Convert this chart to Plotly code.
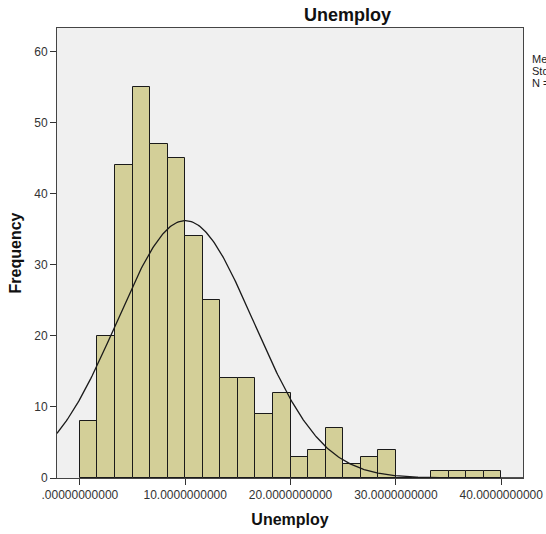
import numpy as np
import plotly.graph_objects as go

# ---- data ----
counts = [8, 20, 44, 55, 47, 45, 34, 25, 14, 14, 9, 12,
          3, 4, 7, 2, 3, 4, 0, 0, 1, 1, 1, 1]
bin_start = 0.0
bin_width = 40.0 / 24
x_tick_vals = [0, 10, 20, 30, 40]
x_tick_text = [".00000000000", "10.0000000000", "20.0000000000",
               "30.0000000000", "40.0000000000"]
y_tick_vals = [0, 10, 20, 30, 40, 50, 60]
mean_val = 10.0
sd_val = 6.50
n_val = 354
stats_lines = ["Mean = 10.00", "Std. Dev. = 6.500", "N = 354"]

centers = [bin_start + bin_width * (i + 0.5) for i in range(len(counts))]

x_min, x_max = -2.17, 42.07
y_max = 63.3

fig = go.Figure()
fig.add_trace(go.Bar(
    x=centers, y=counts, width=bin_width,
    marker=dict(color="#D3CF98", line=dict(color="#1a1a1a", width=1)),
    showlegend=False, hoverinfo="skip",
))

xs = np.linspace(x_min, x_max, 400)
ys = n_val * bin_width / (sd_val * np.sqrt(2 * np.pi)) * np.exp(-0.5 * ((xs - mean_val) / sd_val) ** 2)
fig.add_trace(go.Scatter(x=xs, y=ys, mode="lines",
                         line=dict(color="#1a1a1a", width=1.3),
                         showlegend=False, hoverinfo="skip"))

W, H = 546, 534
ml, mr, mt, mb = 57, 23, 28, 56
pw = W - ml - mr
ph = H - mt - mb


def px_to_paper_x(px):
    return (px - ml) / pw


def py_to_paper_y(py):
    return (H - mb - py) / ph


annotations = [
    dict(text="<b>Unemploy</b>", x=px_to_paper_x(347), y=py_to_paper_y(15),
         xref="paper", yref="paper", showarrow=False, xanchor="center", yanchor="middle",
         font=dict(size=18, color="#111", family="Liberation Sans, Arial")),
]
for i, line in enumerate(stats_lines):
    annotations.append(dict(
        text=line, x=px_to_paper_x(530), y=py_to_paper_y(59 + 12 * i),
        xref="paper", yref="paper", showarrow=False, xanchor="left", yanchor="middle",
        font=dict(size=11, color="#222", family="Liberation Sans, Arial")))

fig.update_layout(
    width=W, height=H,
    margin=dict(l=ml, r=mr, t=mt, b=mb, autoexpand=False),
    paper_bgcolor="white", plot_bgcolor="#F0F0F0",
    bargap=0,
    font=dict(family="Liberation Sans, Arial", size=12, color="#333"),
    annotations=annotations,
    xaxis=dict(range=[x_min, x_max], tickvals=x_tick_vals, ticktext=x_tick_text,
               ticks="outside", ticklen=6, tickcolor="#333", tickwidth=1,
               showline=True, linecolor="#444", linewidth=1, mirror=True,
               showgrid=False, zeroline=False, automargin=False,
               tickfont=dict(size=12, color="#333"),
               title=dict(text="<b>Unemploy</b>", font=dict(size=16, color="#111"), standoff=12)),
    yaxis=dict(range=[0, y_max], tickvals=y_tick_vals,
               ticks="outside", ticklen=6, tickcolor="#333", tickwidth=1,
               showline=True, linecolor="#444", linewidth=1, mirror=True,
               showgrid=False, zeroline=False, automargin=False,
               tickfont=dict(size=12, color="#333"),
               title=dict(text="<b>Frequency</b>", font=dict(size=16, color="#111"), standoff=8)),
)

fig.write_html("out.html")
